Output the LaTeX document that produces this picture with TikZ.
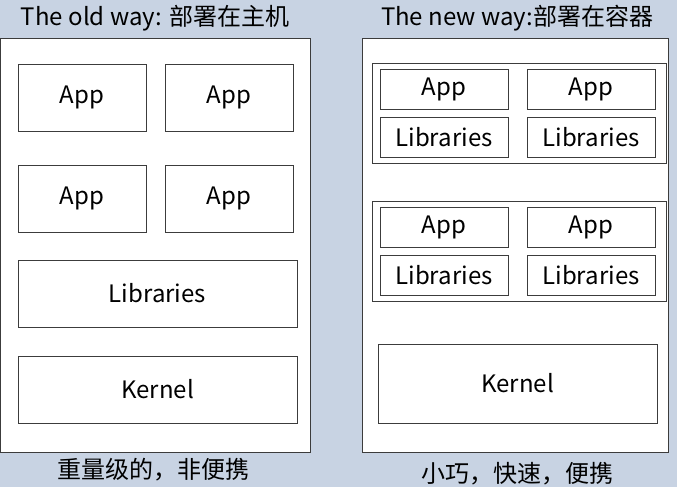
\documentclass[tikz,border=0pt]{standalone}
\usepackage{fontspec}
\setmainfont{Noto Sans CJK SC}
\usetikzlibrary{positioning}
\definecolor{bgblue}{RGB}{200,211,227}
\definecolor{edge}{RGB}{60,60,60}

\begin{document}
\begin{tikzpicture}[x=0.75pt,y=-0.75pt,font=\fontsize{18}{21}\selectfont,
  panel/.style={draw=edge,fill=white,line width=0.75pt,inner sep=0pt},
  blk/.style={draw=edge,fill=white,line width=0.75pt,inner sep=0pt},
  app/.style={blk,minimum width=96pt,minimum height=50.25pt},
  wide/.style={blk,minimum width=209.25pt,minimum height=50.25pt},
  small/.style={blk,minimum width=96pt,minimum height=30pt},
  grp/.style={blk,minimum width=220.5pt,minimum height=75pt},
  title/.style={font=\fontsize{18}{21}\selectfont},
  note/.style={font=\fontsize{18}{21}\selectfont}]
  \fill[bgblue] (0,0) rectangle (677,487);
  \useasboundingbox (0,0) rectangle (677,487);

  % old way
  \node[title] (toldway) at (155,18) {The old way: 部署在主机};
  \node[panel,minimum width=232.5pt,minimum height=310.5pt] (oldhost) at (155,245) {};
  \node[app] (oapp1) at (82,97.5) {App};
  \node[app] (oapp2) at (229,97.5) {App};
  \node[app] (oapp3) at (82,198.5) {App};
  \node[app] (oapp4) at (229,198.5) {App};
  \node[wide] (olibs) at (157.5,293.5) {Libraries};
  \node[wide] (okernel) at (157.5,389.5) {Kernel};
  \node[note] (nold) at (153,470) {重量级的，非便携};

  % new way
  \node[title] (tnewway) at (517,18) {The new way:部署在容器};
  \node[panel,minimum width=229.5pt,minimum height=310.5pt] (newhost) at (515,245) {};
  \foreach \g/\y in {1/113,2/251}{
    \node[grp] (ctr\g) at (519,\y) {};
    \node[small] (capp\g a) at (444,\y-23.5) {App};
    \node[small] (capp\g b) at (591,\y-23.5) {App};
    \node[small] (clib\g a) at (444,\y+24) {Libraries};
    \node[small] (clib\g b) at (591,\y+24) {Libraries};
  }
  \node[blk,minimum width=209.25pt,minimum height=59.25pt] (nkernel) at (517.5,383.5) {Kernel};
  \node[note] (nnew) at (517,474) {小巧，快速，便携};
\end{tikzpicture}
\end{document}
